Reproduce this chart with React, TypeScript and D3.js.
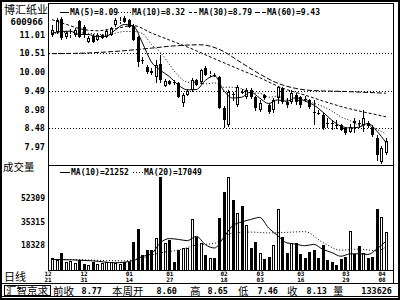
import React, { useEffect } from 'react';
import * as d3 from 'd3';

// ---------- data ----------
const opens = [11.00,11.08,11.44,10.95,11.00,11.00,11.38,11.22,10.82,10.98,10.87,10.92,10.95,11.00,11.28,11.36,11.47,11.41,11.25,10.95,10.33,10.14,10.02,9.87,10.22,9.63,9.76,9.73,9.71,9.16,9.38,9.52,9.79,9.73,10.11,9.95,9.93,9.87,9.03,8.57,9.40,9.11,9.47,9.33,9.52,9.33,8.98,9.38,9.11,8.98,9.30,9.57,9.19,9.19,9.38,9.33,9.26,9.25,8.93,8.90,8.84,8.63,8.61,8.58,8.57,8.49,8.38,8.68,8.63,8.57,8.62,8.52,8.22,7.57,7.81];
const highs = [11.28,11.47,11.49,11.11,11.17,11.19,11.41,11.28,10.98,11.03,11.06,11.03,11.17,11.22,11.47,11.49,11.52,11.44,11.30,10.98,10.41,10.19,10.10,10.33,10.46,9.81,9.79,9.79,9.73,9.44,9.54,9.84,9.81,10.09,10.17,10.02,9.98,9.90,9.08,9.52,9.46,9.65,9.54,9.57,9.57,9.35,9.25,9.41,9.16,9.30,9.63,9.60,9.30,9.52,9.44,9.35,9.35,9.27,9.25,8.98,8.89,8.76,8.71,8.71,8.60,8.52,8.60,8.76,8.71,8.98,8.68,8.57,8.30,8.00,8.22];
const lows = [10.95,11.03,10.87,10.90,10.92,10.95,10.92,10.92,10.79,10.79,10.84,10.90,10.92,10.98,11.22,11.30,11.33,11.19,10.84,10.14,10.22,9.95,9.92,9.71,9.71,9.60,9.65,9.65,9.30,9.06,9.35,9.46,9.63,9.68,9.90,9.88,9.87,9.00,8.49,8.52,9.22,9.06,9.41,9.27,9.27,8.95,8.92,9.25,8.87,8.89,9.14,9.14,9.03,9.14,9.11,9.03,9.19,9.00,8.57,8.84,8.43,8.49,8.43,8.46,8.41,8.30,8.35,8.35,8.49,8.38,8.49,8.25,7.60,7.49,7.76];
const closes = [11.14,11.41,10.92,11.06,11.03,11.14,10.95,11.00,10.92,10.82,11.00,11.00,11.11,11.19,11.41,11.38,11.36,11.22,10.87,10.27,10.30,10.00,9.98,10.19,9.79,9.76,9.68,9.71,9.33,9.38,9.49,9.79,9.65,10.06,9.92,9.96,9.92,9.03,8.71,9.46,9.38,9.60,9.46,9.52,9.33,9.03,9.16,9.30,8.92,9.25,9.60,9.19,9.11,9.44,9.19,9.11,9.25,9.06,8.92,8.89,8.49,8.62,8.60,8.57,8.43,8.35,8.52,8.62,8.62,8.76,8.54,8.30,7.76,7.95,8.13];
const volumes = [9000,7600,12700,6000,7000,5500,7600,5000,4000,6000,5000,5200,6000,6200,5500,5000,6000,6000,20600,30000,11000,15000,15000,23500,67600,20000,22000,6000,15000,16000,16000,37200,24000,20000,11000,9000,9000,38000,56800,67600,51000,41600,47000,33000,16000,20600,12600,8300,9800,18400,44500,24200,12700,19900,19900,12000,9000,13400,14800,9000,18400,7600,6100,4000,8300,9800,28600,11900,17700,12700,9000,10000,44500,38700,27800];

const ma5Idx = [0,2,4,6,8,10,12,14,16,18,20,22,24,26,28,30,32,34,36,38,40,42,44,46,48,50,52,54,56,58,60,62,64,66,68,70,72,74];
const ma5Val = [11.05,11.10,11.11,11.02,11.02,10.96,10.97,11.14,11.29,11.25,10.80,10.28,10.05,9.88,9.65,9.52,9.53,9.78,9.90,9.51,9.30,9.32,9.46,9.30,9.15,9.25,9.21,9.31,9.22,9.11,8.92,8.70,8.54,8.49,8.51,8.61,8.40,8.09];
const ma10Idx = [0,4,8,10,12,14,16,18,20,22,24,26,28,30,32,34,36,38,40,42,44,46,48,50,52,54,56,58,60,62,64,66,68,70,72,74];
const ma10Val = [11.05,11.08,11.05,11.03,11.00,11.05,11.10,11.10,11.05,10.75,10.54,10.21,9.90,9.73,9.72,9.68,9.71,9.59,9.59,9.55,9.44,9.43,9.32,9.35,9.24,9.23,9.24,9.16,9.07,8.95,8.79,8.69,8.57,8.56,8.45,8.32];
const ma30Idx = [0,3,6,10,14,18,22,26,30,34,37,42,46,51,56,60,64,68,71,74];
const ma30Val = [11.42,11.30,11.18,11.12,11.18,11.26,11.06,10.87,10.68,10.47,10.31,10.05,9.85,9.57,9.38,9.22,9.07,8.95,8.87,8.79];
const ma60Idx = [0,8,16,22,28,33,37,42,46,50,54,58,64,70,74];
const ma60Val = [10.50,10.52,10.58,10.65,10.72,10.74,10.62,10.25,9.95,9.70,9.56,9.50,9.48,9.45,9.43];

const vma10Idx = [0,9,14,18,20,22,24,26,28,30,32,34,36,38,40,42,44,46,48,50,52,54,56,58,60,62,64,66,68,70,72,74];
const vma10Val = [8000,7000,5600,7150,10150,12000,20000,23100,22500,21600,24700,18700,16300,23700,32400,35100,36900,38400,30750,25200,20000,19100,17900,18900,15300,13000,10300,12000,12100,11600,15700,21252];
const vma20Idx = [0,6,12,16,19,24,28,32,36,40,44,48,52,56,60,64,68,72,74];
const vma20Val = [8000,7800,7200,7000,8300,12800,14800,18400,19700,27000,27800,27200,27600,28100,20300,14700,15500,14300,17049];

const priceTicks = [11.01, 10.51, 10.00, 9.49, 8.98, 8.48, 7.97];
const gridTicks = [10.51, 9.49, 8.48];
const volTicks = [52309, 35315, 18328];
const dateIdx = [0, 8, 18, 27, 39, 47, 56, 66, 74];
const dateMonth = ['12','12','01','01','02','03','03','03','04'];
const dateDay = ['21','31','14','27','18','03','16','29','08'];

const maNames = ['MA(5)=8.09', 'MA(10)=8.32', 'MA(30)=8.79', 'MA(60)=9.43'];
const volMaNames = ['MA(10)=21252', 'MA(20)=17049'];
const bottomLabels = ['前收', '本周开', '高', '低', '收', '量'];
const bottomValues = ['8.77', '8.60', '8.65', '7.46', '8.13', '133626'];

const NUM = "'DejaVu Sans Mono', monospace";
const CJK = "'Noto Sans CJK SC', 'Noto Sans', sans-serif";

export default function App() {
  useEffect(() => { document.body.style.margin = '0'; }, []);
  const N = closes.length;
  const x = d3.scaleLinear().domain([0, N - 1]).range([52, 386]);
  const y = d3.scaleLinear().domain([10.51, 8.48]).range([53.3, 128.3]);
  const yv = d3.scaleLinear().domain([0, 52309]).range([270.5, 198.2]);
  const col = (i: number) => Math.round(x(i));

  const line = (idx: number[], val: number[], ys: d3.ScaleLinear<number, number>) =>
    d3.line<number>().x((_, k) => x(idx[k])).y((v) => ys(v)).curve(d3.curveMonotoneX)(val) || '';

  const maDash = [undefined, '1,2', '3,2', '5,2'];
  const maSeries = [
    [ma5Idx, ma5Val], [ma10Idx, ma10Val], [ma30Idx, ma30Val], [ma60Idx, ma60Val],
  ] as [number[], number[]][];

  const legMarkX = [60, 115, 189, 255];
  const legMarkW = [9, 16, 9, 11];
  const bottomLabelX = [53, 112, 190, 238, 287, 333];
  const bottomValueX = [102, 177, 228, 278, 327, 392];

  return (
    <svg width={400} height={300} style={{ position: 'absolute', left: 0, top: 0, display: 'block', background: '#fff' }}>
      <defs>
        <clipPath id="mainClip"><rect x={49} y={4} width={343} height={160} /></clipPath>
        <clipPath id="volClip"><rect x={49} y={166} width={343} height={104} /></clipPath>
      </defs>
      <rect x={0} y={0} width={400} height={300} fill="#fff" />
      {/* frame */}
      <rect x={1} y={1} width={398} height={298} fill="none" stroke="#000" strokeWidth={2} />
      <g shapeRendering="crispEdges" stroke="#000" strokeWidth={1}>
        <line x1={48.5} y1={3} x2={48.5} y2={270.5} />
        <line x1={48} y1={3.5} x2={393} y2={3.5} />
        <line x1={393.5} y1={3} x2={393.5} y2={283} />
        <line x1={48} y1={165.5} x2={393} y2={165.5} />
        <line x1={48} y1={270.5} x2={393} y2={270.5} />
        <line x1={1} y1={283.5} x2={399} y2={283.5} />
        <line x1={1} y1={296.5} x2={399} y2={296.5} />
        <rect x={4.5} y={285.5} width={46} height={10} fill="none" />
      </g>

      {/* grid */}
      <g shapeRendering="crispEdges">
        {gridTicks.map((t) => (
          <line key={t} x1={49} x2={393} y1={Math.round(y(t)) + 0.5} y2={Math.round(y(t)) + 0.5}
            stroke="#000" strokeDasharray="1,2" />
        ))}
      </g>

      {/* left labels */}
      <text x={4} y={14} fontFamily={CJK} fontSize={11} fill="#000">博汇纸业</text>
      <text x={43} y={25} textAnchor="end" fontFamily={NUM} fontWeight="bold" fontSize={9} fill="#000">600966</text>
      {priceTicks.map((t) => (
        <text key={t} x={45} y={y(t) + 3} textAnchor="end" fontFamily={NUM} fontWeight="bold" fontSize={8.5} fill="#000">
          {t.toFixed(2)}
        </text>
      ))}
      <text x={3} y={171} fontFamily={CJK} fontSize={10.5} fill="#000">成交量</text>
      {volTicks.map((t) => (
        <text key={t} x={45} y={yv(t) + 3} textAnchor="end" fontFamily={NUM} fontWeight="bold" fontSize={8} fill="#000">
          {t}
        </text>
      ))}
      <text x={4} y={281} fontFamily={CJK} fontSize={11} fill="#000">日线</text>

      {/* candles */}
      <g shapeRendering="crispEdges" clipPath="url(#mainClip)">
        {closes.map((c, i) => {
          const o = opens[i];
          const cx = col(i);
          const up = c >= o;
          const top = Math.round(y(Math.max(o, c)));
          const bot = Math.max(Math.round(y(Math.min(o, c))), top + 1);
          const yh = Math.round(y(highs[i]));
          const yl = Math.round(y(lows[i]));
          if (up) {
            return (
              <g key={i}>
                <line x1={cx + 0.5} x2={cx + 0.5} y1={yh} y2={top} stroke="#000" />
                <line x1={cx + 0.5} x2={cx + 0.5} y1={bot} y2={yl} stroke="#000" />
                <rect x={cx - 0.5} y={top + 0.5} width={2} height={Math.max(bot - top - 1, 0)} fill="#fff" stroke="#000" />
              </g>
            );
          }
          return (
            <g key={i}>
              <line x1={cx + 0.5} x2={cx + 0.5} y1={yh} y2={yl} stroke="#000" />
              <rect x={cx - 1} y={top} width={3} height={bot - top} fill="#000" />
            </g>
          );
        })}
      </g>

      {/* MA lines */}
      <g clipPath="url(#mainClip)" fill="none" stroke="#000" strokeWidth={1}>
        {maSeries.map(([idx, val], k) => (
          <path key={k} d={line(idx, val, y)} strokeDasharray={maDash[k]} />
        ))}
      </g>

      {/* MA legend */}
      <g fontFamily={NUM} fontSize={8} fontWeight="bold" fill="#000">
        {maNames.map((nm, k) => (
          <g key={nm}>
            <line x1={legMarkX[k]} x2={legMarkX[k] + legMarkW[k]} y1={12.5} y2={12.5} stroke="#000" strokeDasharray={maDash[k]} />
            <text x={legMarkX[k] + legMarkW[k] + 1} y={15}>{nm}</text>
          </g>
        ))}
      </g>

      {/* volume bars */}
      <g shapeRendering="crispEdges" clipPath="url(#volClip)">
        {volumes.map((v, i) => {
          const cx = col(i);
          const up = closes[i] >= opens[i];
          const top = Math.round(yv(v));
          const base = 270;
          if (up) {
            return <rect key={i} x={cx - 0.5} y={top + 0.5} width={2} height={base - top} fill="#fff" stroke="#000" />;
          }
          return <rect key={i} x={cx - 1} y={top} width={3} height={base - top + 1} fill="#000" />;
        })}
      </g>
      <g clipPath="url(#volClip)" fill="none" stroke="#000" strokeWidth={1}>
        <path d={line(vma10Idx, vma10Val, yv)} />
        <path d={line(vma20Idx, vma20Val, yv)} strokeDasharray="1,2" />
      </g>
      <g fontFamily={NUM} fontSize={8} fontWeight="bold" fill="#000">
        <line x1={60} x2={70} y1={172.5} y2={172.5} stroke="#000" />
        <text x={71} y={175}>{volMaNames[0]}</text>
        <line x1={133} x2={143} y1={172.5} y2={172.5} stroke="#000" strokeDasharray="1,2" />
        <text x={144} y={175}>{volMaNames[1]}</text>
      </g>

      {/* date labels */}
      <g fontFamily={NUM} fontSize={6} fontWeight="bold" fill="#000" textAnchor="middle">
        {dateIdx.map((di, k) => (
          <text key={k} x={x(di) - 4} y={276}>
            <tspan x={x(di) - 4} y={276}>{dateMonth[k]}</tspan>
            <tspan x={x(di) - 4} y={282}>{dateDay[k]}</tspan>
          </text>
        ))}
      </g>

      {/* bottom bar */}
      <text x={6} y={294.5} fontFamily={CJK} fontSize={10.5} fill="#000">汇智京求</text>
      {bottomLabels.map((lb, k) => (
        <text key={lb} x={bottomLabelX[k]} y={294.5} fontFamily={CJK} fontSize={10.5} fill="#000">{lb}</text>
      ))}
      {bottomValues.map((vl, k) => (
        <text key={k} x={bottomValueX[k]} y={293.5} textAnchor="end" fontFamily={NUM} fontWeight="bold" fontSize={8.5} fill="#000">{vl}</text>
      ))}
    </svg>
  );
}
